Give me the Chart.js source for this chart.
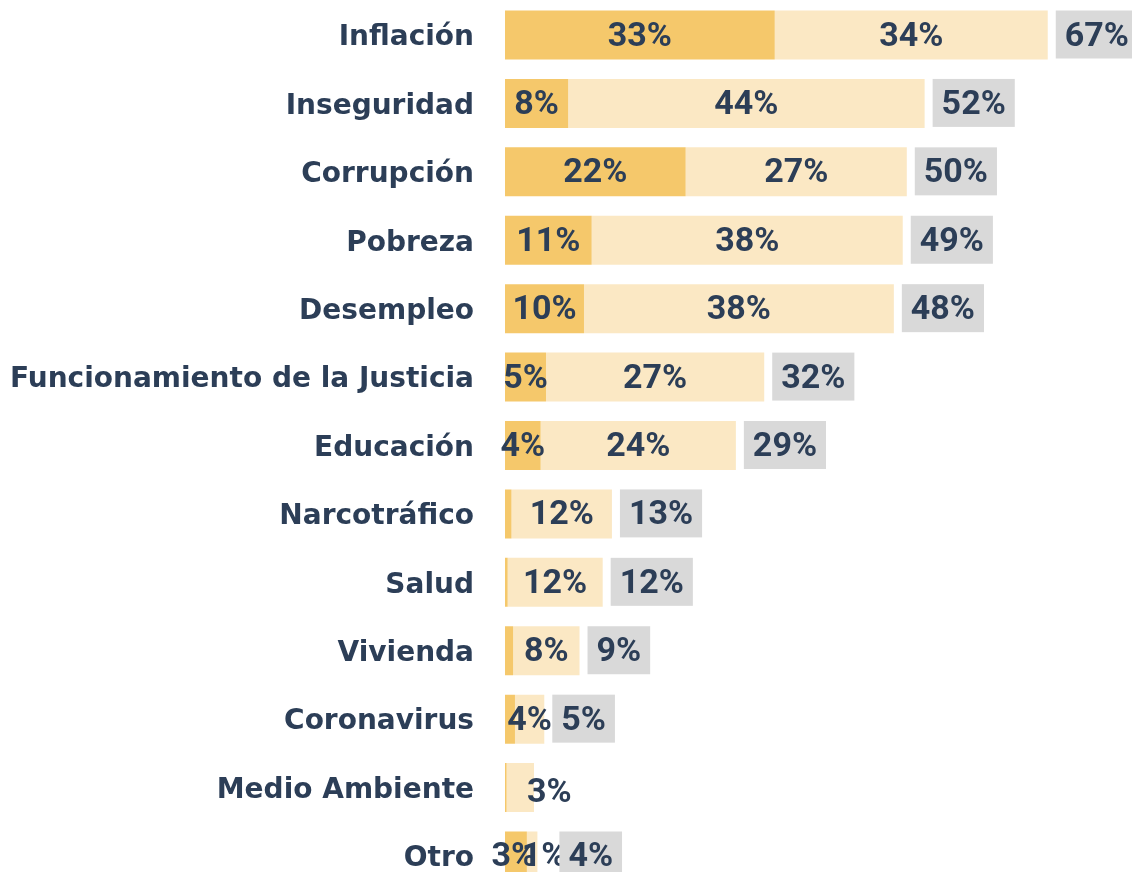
<!DOCTYPE html>
<html>
<head>
<meta charset="utf-8">
<script src="https://cdn.jsdelivr.net/npm/chart.js@4.4.1/dist/chart.umd.min.js"></script>
<style>
  html, body { margin: 0; padding: 0; background: #ffffff; overflow: hidden; width: 1132px; height: 872px; }
  #wrap { position: absolute; left: 0; top: -16px; width: 1132px; height: 923px; }
</style>
</head>
<body>
<div id="wrap"><canvas id="c"></canvas></div>
<script>
// ---- data ----
const categories = [
  'Inflación', 'Inseguridad', 'Corrupción', 'Pobreza', 'Desempleo',
  'Funcionamiento de la Justicia', 'Educación', 'Narcotráfico', 'Salud',
  'Vivienda', 'Coronavirus', 'Medio Ambiente', 'Otro'
];
const firstMention = [33.3, 7.8, 22.3, 10.7, 9.75, 5.06, 4.4, 0.8, 0.33, 1.0, 1.23, 0.2, 2.7];
const otherMentions = [33.7, 44.0, 27.3, 38.4, 38.25, 26.94, 24.1, 12.4, 11.73, 8.2, 3.62, 3.38, 1.3];
const totals = firstMention.map((v, i) => v + otherMentions[i]);

// ---- styles ----
const TEXT = '#2C3E57';
const DARK = '#F5C86B';
const LIGHT = '#FBE8C4';
const GRAY = '#D9D9D9';
const LABEL_FONT = '700 34px Roboto';
const MIN_DARK_LABEL = 2;
// label tweaks (pixel nudges) and hidden totals, as in the reference
const nudges = {
  'Medio Ambiente': { light: [29, 4], hideTotal: true },
  'Otro': { light: [12, 0], total: [14, 0], dark: [-2, 0] }
};

const fmt = v => Math.round(v) + '%';

const labelPlugin = {
  id: 'segLabels',
  afterDatasetsDraw(chart) {
    const ctx = chart.ctx;
    const m0 = chart.getDatasetMeta(0);
    const m1 = chart.getDatasetMeta(1);
    const dy = 2;
    ctx.save();
    ctx.font = LABEL_FONT;
    ctx.fillStyle = TEXT;
    ctx.textAlign = 'center';
    ctx.textBaseline = 'middle';
    categories.forEach((c, i) => {
      const n = nudges[c] || {};
      const b0 = m0.data[i], b1 = m1.data[i];
      if (firstMention[i] >= MIN_DARK_LABEL) {
        const o = n.dark || [0, 0];
        ctx.fillText(fmt(firstMention[i]), (b0.base + b0.x) / 2 + o[0], b0.y + dy + o[1]);
      }
      const o1 = n.light || [0, 0];
      ctx.fillText(fmt(otherMentions[i]), (b1.base + b1.x) / 2 + o1[0], b1.y + dy + o1[1]);
    });
    categories.forEach((c, i) => {
      const n = nudges[c] || {};
      if (n.hideTotal) return;
      const b1 = m1.data[i];
      const o = n.total || [0, 0];
      const txt = fmt(totals[i]);
      const w = ctx.measureText(txt).width + 18;
      const h = b1.height;
      const x0 = b1.x + 8 + o[0];
      ctx.fillStyle = GRAY;
      ctx.fillRect(x0, b1.y - h / 2, w, h - 1);
      ctx.fillStyle = TEXT;
      ctx.fillText(txt, x0 + w / 2, b1.y + dy);
    });
    ctx.restore();
  }
};

new Chart(document.getElementById('c'), {
  type: 'bar',
  data: {
    labels: categories,
    datasets: [
      { label: 'Primera mención', data: firstMention, backgroundColor: DARK, borderWidth: 0,
        barPercentage: 0.716, categoryPercentage: 1 },
      { label: 'Otras menciones', data: otherMentions, backgroundColor: LIGHT, borderWidth: 0,
        barPercentage: 0.716, categoryPercentage: 1 }
    ]
  },
  options: {
    indexAxis: 'y',
    responsive: true,
    maintainAspectRatio: false,
    animation: false,
    layout: { padding: 0 },
    plugins: { legend: { display: false }, tooltip: { enabled: false } },
    scales: {
      x: { stacked: true, display: false, min: 0, max: 77.4 },
      y: {
        stacked: true,
        grid: { display: true, drawOnChartArea: false, drawTicks: true, tickLength: 31, color: 'rgba(0,0,0,0)' },
        border: { display: false },
        ticks: { color: TEXT, font: { family: 'DejaVu Sans', weight: '700', size: 28 }, padding: 0, labelOffset: 3 },
        afterFit(scale) { scale.width = 505; }
      }
    }
  },
  plugins: [labelPlugin]
});
</script>
</body>
</html>
